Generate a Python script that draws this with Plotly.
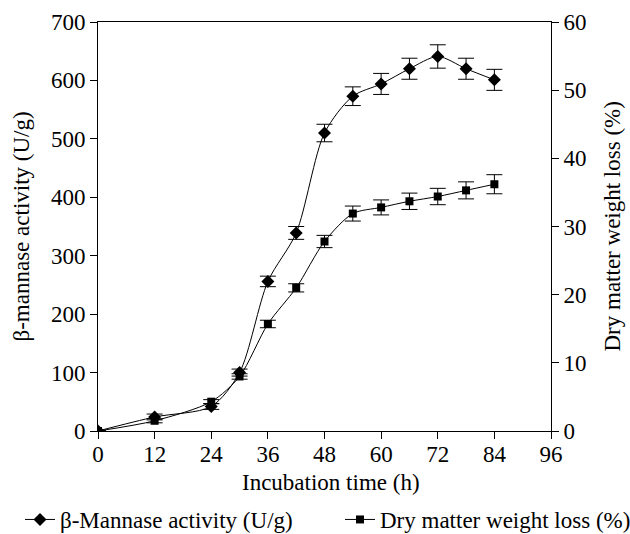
import plotly.graph_objects as go

time_h = [0, 12, 24, 30, 36, 42, 48, 54, 60, 66, 72, 78, 84]
mannase = [0, 24, 42, 100, 256, 339, 510, 573, 594, 620, 641, 620, 601]
mannase_err = [0, 5, 5, 6, 9, 11, 15, 16, 18, 18, 20, 18, 18]
dm_loss = [0, 1.5, 4.3, 8.0, 15.7, 21.0, 27.8, 31.9, 32.8, 33.7, 34.4, 35.3, 36.2]
dm_err = [0, 0.3, 0.3, 0.4, 0.55, 0.6, 0.9, 1.1, 1.1, 1.2, 1.2, 1.25, 1.4]

x_title = "Incubation time (h)"
y1_title = "β-mannase activity (U/g)"
y2_title = "Dry matter weight loss (%)"

font_family = "Liberation Serif, Times New Roman, serif"

fig = go.Figure()
fig.add_trace(go.Scatter(
    x=time_h, y=mannase, name="β-Mannase activity (U/g)",
    mode="lines+markers",
    line=dict(color="black", width=1, shape="spline", smoothing=0.8),
    marker=dict(symbol="diamond", size=10, color="black"),
    error_y=dict(type="data", array=mannase_err, visible=True, color="black", thickness=1, width=8),
    yaxis="y", legend="legend",
))
fig.add_trace(go.Scatter(
    x=time_h, y=dm_loss, name="Dry matter weight loss (%)",
    mode="lines+markers",
    line=dict(color="black", width=1, shape="spline", smoothing=0.8),
    marker=dict(symbol="square", size=8, color="black"),
    error_y=dict(type="data", array=dm_err, visible=True, color="black", thickness=1, width=8),
    yaxis="y2", legend="legend2",
))

axis_common = dict(showline=True, linecolor="black", linewidth=1, ticks="outside",
                   ticklen=7, tickcolor="black", showgrid=False, zeroline=False,
                   tickfont=dict(family=font_family, size=23, color="black"))

title_font = dict(family=font_family, size=23, color="black")
fig.add_annotation(text=x_title, xref="paper", yref="paper", x=(331 - 98) / 453, y=-(483 - 431) / 409,
                   showarrow=False, font=title_font, xanchor="center", yanchor="middle")
fig.add_annotation(text=y1_title, xref="paper", yref="paper", x=-(98 - 21) / 453, y=0.5,
                   showarrow=False, font=title_font, textangle=-90, xanchor="center", yanchor="middle")
fig.add_annotation(text=y2_title, xref="paper", yref="paper", x=1 + (612 - 551) / 453, y=0.5,
                   showarrow=False, font=title_font, textangle=-90, xanchor="center", yanchor="middle")

leg_common = dict(orientation="h", xanchor="left", xref="container",
                  y=-(498 - 431) / 409, yanchor="top", yref="paper",
                  font=dict(family=font_family, size=23, color="black"),
                  bgcolor="rgba(0,0,0,0)", borderwidth=0)

fig.update_layout(
    width=630, height=534,
    margin=dict(l=98, r=79, t=22, b=103, autoexpand=False),
    plot_bgcolor="white", paper_bgcolor="white",
    font=dict(family=font_family, size=23, color="black"),
    xaxis=dict(range=[0, 96], tickvals=list(range(0, 97, 12)), mirror=True,
               ticklabelstandoff=-5, **axis_common),
    yaxis=dict(range=[0, 700], tickvals=list(range(0, 701, 100)), **axis_common),
    yaxis2=dict(range=[0, 60], tickvals=list(range(0, 61, 10)), overlaying="y", side="right",
                **axis_common),
    showlegend=True,
    legend=dict(x=20 / 630, **leg_common),
    legend2=dict(x=340 / 630, **leg_common),
)

fig.write_html("out.html")
